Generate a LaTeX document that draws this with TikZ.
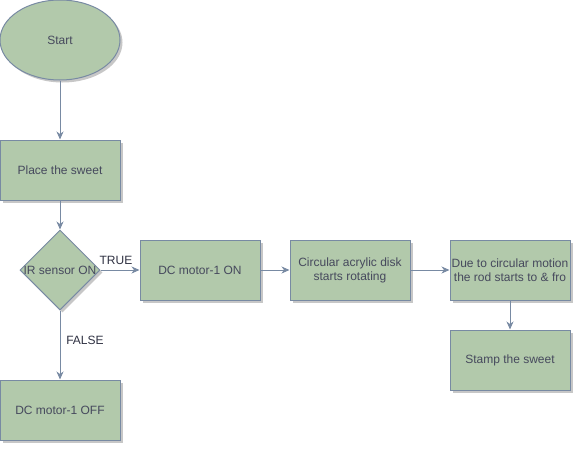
\documentclass[tikz,border=0pt]{standalone}
\usepackage{fontspec}
\setmainfont{Liberation Sans}
\usetikzlibrary{shapes.geometric,arrows.meta,shadows}
\definecolor{boxfill}{HTML}{B2C9AB}
\definecolor{boxline}{HTML}{788AA3}
\definecolor{boxtext}{HTML}{46495D}
\definecolor{labeltext}{HTML}{2F3142}
\begin{document}
\begin{tikzpicture}[x=1pt,y=-1pt,
  every node/.style={font=\fontsize{12}{14}\selectfont, text=boxtext},
  shad/.style={drop shadow={shadow xshift=2.5pt, shadow yshift=-2.5pt, opacity=0.22, fill=black}},
  procbox/.style={draw=boxline, fill=boxfill, line width=1pt, minimum width=120pt, minimum height=60pt, inner sep=0pt, align=center, shad},
  termnode/.style={ellipse, draw=boxline, fill=boxfill, line width=1pt, minimum width=120pt, minimum height=80pt, inner sep=0pt, shad},
  decnode/.style={diamond, draw=boxline, fill=boxfill, line width=1pt, minimum width=80pt, minimum height=80pt, inner sep=0pt, aspect=1, shad},
  conn/.style={draw=boxline, line width=1pt, -{Stealth[length=8pt,width=7pt,inset=2.5pt]}},
  edgelabel/.style={text=labeltext, fill=white, inner sep=1pt}
]
\useasboundingbox (0,0) rectangle (582,453);
\node[termnode] (start) at (60,40) {Start};
\node[procbox] (place) at (60,170) {Place the sweet};
\node[decnode] (ir) at (60,270) {};
\node (irtext) at (60,270) {IR sensor ON};
\node[procbox] (on) at (200,270) {DC motor-1 ON};
\node[procbox] (disk) at (350,270) {Circular acrylic disk\\starts rotating};
\node[procbox] (rod) at (510,270) {Due to circular motion\\the rod starts to \& fro};
\node[procbox] (stamp) at (510,360) {Stamp the sweet};
\node[procbox] (off) at (60,410) {DC motor-1 OFF};
\draw[conn] (start) -- (place);
\draw[conn] (place) -- (ir);
\draw[conn] (ir.east) -- (on.west);
\draw[conn] (on) -- (disk);
\draw[conn] (disk) -- (rod);
\draw[conn] (rod) -- (stamp);
\draw[conn] (ir.south) -- (off.north);
\node[edgelabel] (tl) at (116,260) {TRUE};
\node[edgelabel] (fl) at (85,340) {FALSE};
\end{tikzpicture}
\end{document}
